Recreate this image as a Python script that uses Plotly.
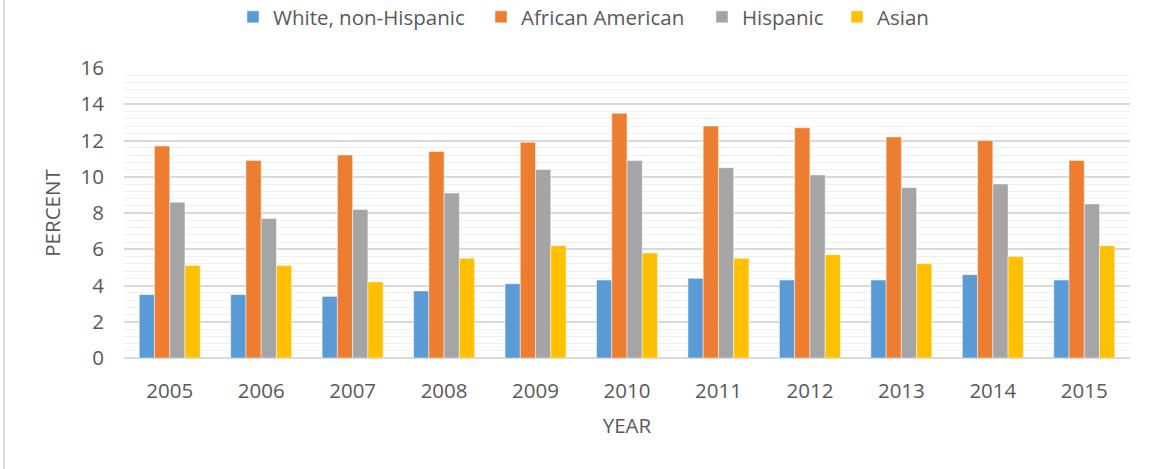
import plotly.graph_objects as go

years = ["2005", "2006", "2007", "2008", "2009", "2010", "2011", "2012", "2013", "2014", "2015"]
white = [3.5, 3.5, 3.4, 3.7, 4.1, 4.3, 4.4, 4.3, 4.3, 4.6, 4.3]
african_american = [11.7, 10.9, 11.2, 11.4, 11.9, 13.5, 12.8, 12.7, 12.2, 12.0, 10.9]
hispanic = [8.6, 7.7, 8.2, 9.1, 10.4, 10.9, 10.5, 10.1, 9.4, 9.6, 8.5]
asian = [5.1, 5.1, 4.2, 5.5, 6.2, 5.8, 5.5, 5.7, 5.2, 5.6, 6.2]

series = [
    ("White, non-Hispanic", white, "#5B9BD5"),
    ("African American", african_american, "#ED7D31"),
    ("Hispanic", hispanic, "#A5A5A5"),
    ("Asian", asian, "#FFC000"),
]

FONT = "'Open Sans', 'Noto Sans', sans-serif"
TEXT = "#595959"
FS = 20.5

L, R, T, B = 124, 24, 68, 111
W, H = 1154, 469
ph = H - T - B
pw = W - L - R

# left pixel of each legend entry box along the top row
legend_left_px = [233, 481, 702, 837]
legend_ids = ["legend", "legend2", "legend3", "legend4"]

fig = go.Figure()
for (name, vals, color), lid in zip(series, legend_ids):
    fig.add_trace(go.Bar(
        x=years, y=vals, name=name, legend=lid,
        marker=dict(color=color, line=dict(color="rgba(255,255,255,0.6)", width=0.8)),
    ))

legend_layout = {}
for lid, px in zip(legend_ids, legend_left_px):
    legend_layout[lid] = dict(
        orientation="h", x=(px - L) / pw, xanchor="left",
        y=1 + (T + 3) / ph, yanchor="top",
        font=dict(size=FS, color=TEXT), itemwidth=30,
        bgcolor="rgba(0,0,0,0)",
    )

fig.update_layout(
    width=W, height=H,
    margin=dict(l=L, r=R, t=T, b=B, pad=0, autoexpand=False),
    paper_bgcolor="white", plot_bgcolor="white",
    barmode="group", bargap=0.333, bargroupgap=0,
    font=dict(family=FONT, size=FS, color=TEXT),
    showlegend=True,
    xaxis=dict(
        showgrid=False, showline=False, ticks="",
        tickfont=dict(size=FS, color=TEXT),
        ticklabelstandoff=18,
        title=dict(text="YEAR", font=dict(size=FS, color=TEXT), standoff=16),
    ),
    yaxis=dict(
        range=[0, 16], dtick=2, tick0=0,
        showgrid=True, gridcolor="#D9D9D9", gridwidth=1.5,
        minor=dict(dtick=0.4, showgrid=True, gridcolor="#F0F0F0", gridwidth=1.2),
        zeroline=True, zerolinecolor="#D9D9D9", zerolinewidth=2,
        showline=False, ticks="",
        tickfont=dict(size=FS, color=TEXT),
        ticklabelstandoff=19,
        title=dict(text="PERCENT", font=dict(size=FS, color=TEXT), standoff=14),
    ),
    shapes=[dict(
        type="line", xref="paper", yref="paper",
        x0=(4 - L) / pw, x1=(4 - L) / pw,
        y0=-B / ph, y1=1 + T / ph,
        line=dict(color="#D9D9D9", width=2),
    )],
    **legend_layout,
)

fig.write_html("out.html")
